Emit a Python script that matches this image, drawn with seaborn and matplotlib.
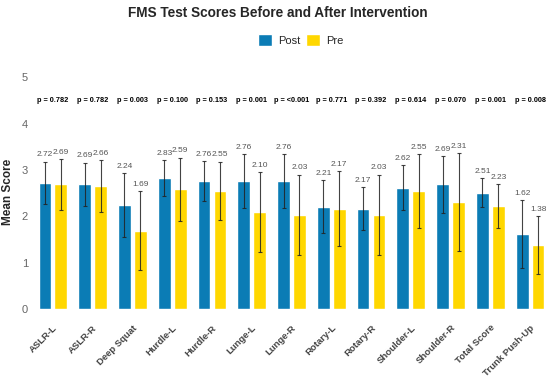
"""
FMS test scores before and after intervention: grouped bars with SD error bars.
"""
import matplotlib
matplotlib.use("Agg")
import matplotlib.pyplot as plt
import pandas as pd
import seaborn as sns

tests = ["ASLR-L", "ASLR-R", "Deep Squat", "Hurdle-L", "Hurdle-R", "Lunge-L",
         "Lunge-R", "Rotary-L", "Rotary-R", "Shoulder-L", "Shoulder-R",
         "Total Score", "Trunk Push-Up"]
post_mean = [2.72, 2.69, 2.24, 2.83, 2.76, 2.76, 2.76, 2.21, 2.17, 2.62, 2.69, 2.51, 1.62]
pre_mean = [2.69, 2.66, 1.69, 2.59, 2.55, 2.10, 2.03, 2.17, 2.03, 2.55, 2.31, 2.23, 1.38]
post_sd = [0.46, 0.47, 0.69, 0.39, 0.43, 0.58, 0.58, 0.57, 0.47, 0.49, 0.61, 0.31, 0.73]
pre_sd = [0.54, 0.56, 0.85, 0.68, 0.63, 0.86, 0.87, 0.81, 0.87, 0.79, 1.05, 0.47, 0.63]
p_values = ["0.782", "0.782", "0.003", "0.100", "0.153", "0.001", "<0.001",
            "0.771", "0.392", "0.614", "0.070", "0.001", "0.008"]
groups = ["Post", "Pre"]
colors = {"Post": "#0b7cb5", "Pre": "#ffd700"}

df = pd.DataFrame({
    "test": tests * 2,
    "group": ["Post"] * len(tests) + ["Pre"] * len(tests),
    "mean": post_mean + pre_mean,
})
sds = {"Post": post_sd, "Pre": pre_sd}

sns.set_style("white")
plt.rcParams["font.family"] = ["Liberation Sans", "DejaVu Sans"]

fig = plt.figure(figsize=(5.5, 3.8), dpi=100)
ax = fig.add_axes([0.06, 0.186, 0.94, 0.617])

sns.barplot(data=df, x="test", y="mean", hue="group", hue_order=groups,
            palette=colors, width=0.8, gap=0.2, errorbar=None,
            saturation=1, ax=ax)

# error bars and value labels on top of each bar
for container, grp in zip(ax.containers, groups):
    for bar, sd in zip(container, sds[grp]):
        x = bar.get_x() + bar.get_width() / 2
        y = bar.get_height()
        ax.errorbar(x, y, yerr=sd, color="#222222", lw=0.8, capsize=1.5,
                    capthick=0.8, alpha=0.85)
        ax.text(x, y + sd + 0.07, f"{y:.2f}", ha="center", va="bottom",
                fontsize=6, color="#555555")

for i, p in enumerate(p_values):
    ax.text(i, 4.5, f"p = {p}", ha="center", va="center", fontsize=5.3,
            fontweight="bold", color="black")

ax.set_ylim(0, 5.05)
ax.set_xlim(-0.5, len(tests) - 0.5)
ax.set_yticks([0, 1, 2, 3, 4, 5])
ax.set_xlabel("")
ax.set_ylabel("Mean Score", fontsize=8.5, fontweight="bold", labelpad=6)
ax.tick_params(axis="y", labelsize=8, labelcolor="#666666", length=0)
ax.tick_params(axis="x", labelsize=6.8, labelcolor="#444444", length=0, pad=10)
for lab in ax.get_xticklabels():
    lab.set_rotation(45)
    lab.set_ha("right")
    lab.set_rotation_mode("anchor")
    lab.set_fontweight("bold")
sns.despine(ax=ax, left=True, bottom=True)

handles, labels = ax.get_legend_handles_labels()
ax.legend(handles, labels, loc="center", bbox_to_anchor=(0.547, 0.895),
          bbox_transform=fig.transFigure, ncol=2, frameon=False,
          handlelength=1.25, handleheight=1.25, columnspacing=0.5,
          handletextpad=0.6, fontsize=8)

fig.suptitle("FMS Test Scores Before and After Intervention", x=0.505, y=0.985,
             fontsize=9.8, fontweight="bold")

fig.savefig("out.png", dpi=100)
